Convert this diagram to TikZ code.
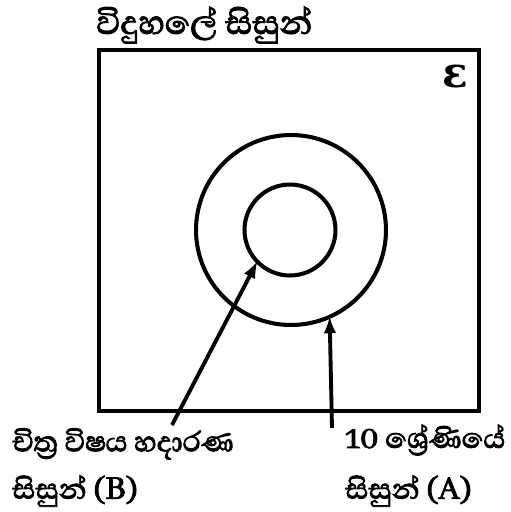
\documentclass[tikz,border=0pt]{standalone}
\usepackage{fontspec}
\newfontfamily\sinfont[Script=Sinhala, FakeBold=2.5]{Abhaya Libre}
\newfontfamily\epsfont{DejaVu Serif}
\tikzset{
  lbl/.style={font=\sinfont\fontsize{20.5}{24}\selectfont, anchor=west, inner sep=0pt},
  setc/.style={circle, draw, line width=2.3pt, inner sep=0pt, outer sep=0pt},
}
\begin{document}
\begin{tikzpicture}[x=0.02cm, y=-0.02cm]
			\useasboundingbox (0,0) rectangle (511,512);
			\draw[line width=2.5pt] (99,50) rectangle (479,411);
			\node[lbl, font=\sinfont\fontsize{24}{28}\selectfont] (title) at (96,25) {විදුහලේ සිසුන්};
			\node[font=\epsfont\bfseries\fontsize{24}{26}\selectfont, inner sep=0pt] (eps) at (455,76) {ε};
			\node[setc, minimum size=3.8cm] (outer) at (291,230) {};
			\node[setc, minimum size=1.82cm] (inner) at (290,230) {};
			\node[lbl] (labB) at (12,444) {චිත්‍ර විෂය හදාරණ};
			\node[lbl] (labBb) at (12,491) {සිසුන් (B)};
			\node[lbl] (labA) at (345,440) {10 ශ්‍රේණියේ};
			\node[lbl] (labAb) at (345,491) {සිසුන් (A)};
			\coordinate (tailB) at (172,425);
			\coordinate (tailA) at (332,428);
			\draw[->, >=latex, line width=2.2pt] (tailB) -- (inner.224);
			\draw[->, >=latex, line width=2.2pt] (tailA) -- (outer.294);
		\end{tikzpicture}
\end{document}
